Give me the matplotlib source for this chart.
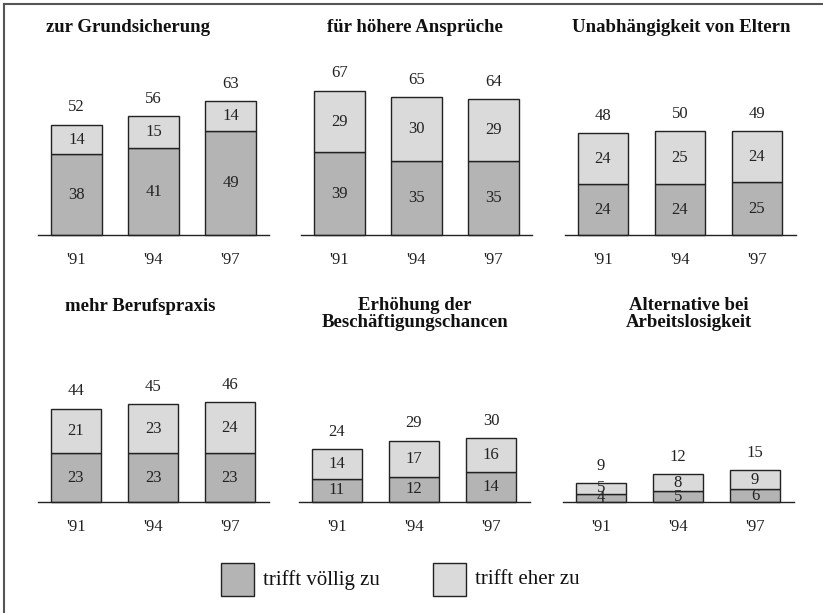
"""
Stacked bar panels: Zustimmung zu Motiven ('91 / '94 / '97).
Writes: out.png
"""

import matplotlib
matplotlib.use("Agg")
import matplotlib.pyplot as plt
from matplotlib.lines import Line2D
from matplotlib.patches import Rectangle

plt.rcParams["font.family"] = ["Liberation Serif", "DejaVu Serif"]

years = ["'91", "'94", "'97"]

titles = [
    "zur Grundsicherung",
    "für höhere Ansprüche",
    "Unabhängigkeit von Eltern",
    "mehr Berufspraxis",
    "Erhöhung der\nBeschäftigungschancen",
    "Alternative bei\nArbeitslosigkeit",
]

# trifft völlig zu
voellig = [
    [38, 41, 49],
    [39, 35, 35],
    [24, 24, 25],
    [23, 23, 23],
    [11, 12, 14],
    [4, 5, 6],
]
# trifft eher zu
eher = [
    [14, 15, 14],
    [29, 30, 29],
    [24, 25, 24],
    [21, 23, 24],
    [14, 17, 16],
    [5, 8, 9],
]
totals = [
    [52, 56, 63],
    [67, 65, 64],
    [48, 50, 49],
    [44, 45, 46],
    [24, 29, 30],
    [9, 12, 15],
]

C_DARK = "#b4b4b4"
C_LIGHT = "#dadada"

W, H = 823, 613
fig = plt.figure(figsize=(W / 100, H / 100), dpi=100)

PX_PER_UNIT = 2.12   # vertical scale, same in every panel
BAR_STEP = 77        # px between bar centres
AX_W = 231           # px width of a panel baseline
AX_H = 160           # px height of a panel axes

# (panel centre x, baseline y) in pixels from top-left
panel_pos = [
    (153.5, 235), (416.5, 235), (680, 235),
    (153, 502), (414, 502), (678, 502),
]
title_pos = [
    (128, 28), (415, 27), (681, 27),
    (140, 307), (415, 314), (689, 314),
]

for k in range(6):
    cx, base = panel_pos[k]
    ax = fig.add_axes([(cx - AX_W / 2) / W, (H - base) / H, AX_W / W, AX_H / H])
    half = AX_W / BAR_STEP / 2
    ax.set_xlim(1 - half, 1 + half)
    ax.set_ylim(0, AX_H / PX_PER_UNIT)
    for s in ["top", "right", "left"]:
        ax.spines[s].set_visible(False)
    ax.spines["bottom"].set_color("#222222")
    ax.spines["bottom"].set_linewidth(1.0)
    ax.set_xticks([])
    ax.set_yticks([])
    ax.patch.set_alpha(0)

    x = range(len(years))
    ax.bar(x, voellig[k], width=0.66, color=C_DARK, edgecolor="#222222",
           linewidth=1.0, clip_on=False)
    ax.bar(x, eher[k], width=0.66, bottom=voellig[k], color=C_LIGHT,
           edgecolor="#222222", linewidth=1.0, clip_on=False)

    for i in x:
        v, e, t = voellig[k][i], eher[k][i], totals[k][i]
        ax.text(i, v / 2, str(v), ha="center", va="center", fontsize=12, color="#222222")
        ax.text(i, v + e / 2, str(e), ha="center", va="center", fontsize=12, color="#222222")
        ax.annotate(str(t), (i, v + e), xytext=(0, 12.5), textcoords="offset points",
                    ha="center", va="center", fontsize=12, color="#222222")
        ax.annotate(years[i], (i, 0), xytext=(0, -18), textcoords="offset points",
                    ha="center", va="center", fontsize=12, color="#222222",
                    annotation_clip=False)

    tx, ty = title_pos[k]
    fig.text(tx / W, 1 - ty / H, titles[k], ha="center", va="center",
             fontsize=13.5, fontweight="bold", linespacing=1.05, color="#111111")

# legend
for (lx, lbl, col) in [(221, "trifft völlig zu", C_DARK), (433, "trifft eher zu", C_LIGHT)]:
    fig.patches.append(Rectangle((lx / W, 1 - 596 / H), 33 / W, 33 / H,
                                 transform=fig.transFigure, facecolor=col,
                                 edgecolor="#222222", linewidth=1.0))
    fig.text((lx + 42) / W, 1 - 580 / H, lbl, ha="left", va="center",
             fontsize=15, color="#111111")

# frame (only top and left edges visible)
fig.lines.append(Line2D([3.5 / W, 3.5 / W], [0, 1 - 3.5 / H], transform=fig.transFigure,
                        color="#555555", linewidth=1.5))
fig.lines.append(Line2D([3.5 / W, 1], [1 - 3.5 / H, 1 - 3.5 / H], transform=fig.transFigure,
                        color="#555555", linewidth=1.5))

fig.savefig("out.png", dpi=100)
plt.close(fig)
